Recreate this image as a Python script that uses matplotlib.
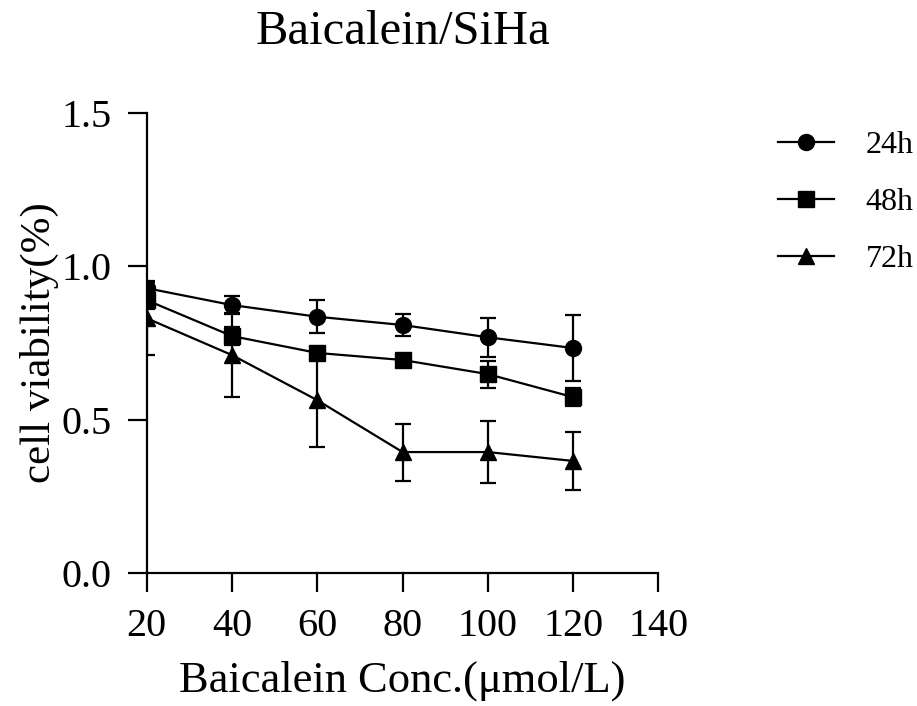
import matplotlib
matplotlib.use("Agg")
import matplotlib.pyplot as plt

plt.rcParams["font.family"] = ["Liberation Serif", "DejaVu Serif"]

# data
conc = [20, 40, 60, 80, 100, 120]
v24 = [0.929, 0.874, 0.836, 0.809, 0.769, 0.734]
e24 = [0.02, 0.03, 0.054, 0.035, 0.063, 0.108]
v48 = [0.890, 0.773, 0.718, 0.695, 0.649, 0.574]
e48 = [0.03, 0.03, 0.01, 0.01, 0.044, 0.03]
v72 = [0.831, 0.711, 0.564, 0.395, 0.395, 0.366]
e72 = [0.12, 0.137, 0.154, 0.093, 0.10, 0.095]
labels = ["24h", "48h", "72h"]

fig = plt.figure(figsize=(9.17, 7.06), dpi=100)
ax = fig.add_axes([0.160, 0.188, 0.558, 0.652])

series = [(v24, e24, "o"), (v48, e48, "s"), (v72, e72, "^")]
handles = []
for (vals, errs, mk), lab in zip(series, labels):
    cont = ax.errorbar(conc, vals, yerr=errs, color="black", marker=mk, markersize=11.5,
                       linewidth=1.6, elinewidth=1.6, capsize=6, capthick=1.6, label=lab)
    handles.append(cont[0])

ax.set_xlim(20, 140)
ax.set_ylim(0, 1.5)
ax.set_xticks([20, 40, 60, 80, 100, 120, 140])
ax.set_yticks([0.0, 0.5, 1.0, 1.5])
ax.set_yticklabels(["0.0", "0.5", "1.0", "1.5"])
ax.spines["top"].set_visible(False)
ax.spines["right"].set_visible(False)
for s in ["left", "bottom"]:
    ax.spines[s].set_linewidth(1.6)
ax.tick_params(direction="out", length=14, width=1.6, labelsize=29, pad=11)

ax.set_xlabel("Baicalein Conc.(μmol/L)", fontsize=32, labelpad=11)
ax.set_ylabel("cell viability(%)", fontsize=31, labelpad=2)
ax.set_title("Baicalein/SiHa", fontsize=35, pad=50)

ax.legend(handles, labels, loc="upper left", bbox_to_anchor=(0.848, 0.815),
          bbox_transform=fig.transFigure, frameon=False, fontsize=23,
          handlelength=1.75, labelspacing=0.87, handletextpad=1.0,
          borderpad=0, borderaxespad=0)

fig.savefig("out.png", dpi=100)
